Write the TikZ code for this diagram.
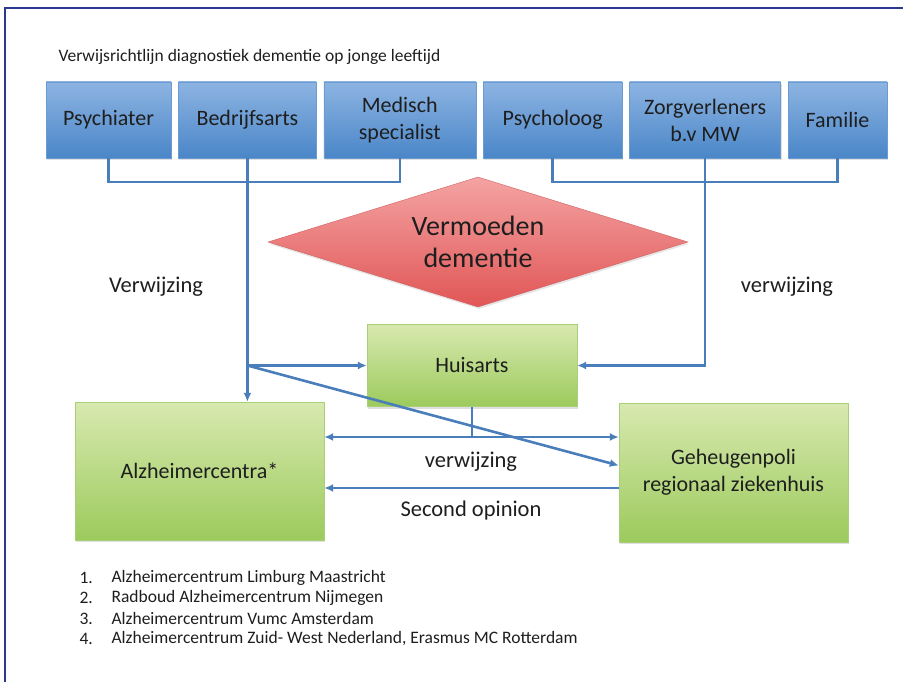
\documentclass[tikz,border=0pt]{standalone}
\usepackage{fontspec}
\setmainfont{Carlito}
\usetikzlibrary{positioning,shapes.geometric,arrows.meta,shadows}
\definecolor{linkblue}{HTML}{4A7EBB}
\definecolor{frameblue}{HTML}{2B3990}
\definecolor{bluetop}{HTML}{8DB4E2}
\definecolor{bluebot}{HTML}{4A86C8}
\definecolor{blueedge}{HTML}{6A9BD1}
\definecolor{greentop}{HTML}{D8E9B0}
\definecolor{greenbot}{HTML}{9CCA5C}
\definecolor{greenedge}{HTML}{A9D076}
\definecolor{redtop}{HTML}{F4A3A3}
\definecolor{redbot}{HTML}{E15656}
\definecolor{rededge}{HTML}{D06060}
\definecolor{inktext}{HTML}{1E1E1E}
\begin{document}
\begin{tikzpicture}[x=1pt, y=-1pt,
    node distance=7pt,
    topbox/.style={rectangle, draw=blueedge, top color=bluetop, bottom color=bluebot, minimum height=76pt, align=center, inner sep=2pt, text=inktext, font=\fontsize{22}{27}\selectfont, drop shadow={shadow xshift=1pt, shadow yshift=-2pt, opacity=0.25}},
    greenbox/.style={rectangle, draw=greenedge, top color=greentop, bottom color=greenbot, align=center, inner sep=2pt, text=inktext, font=\fontsize{22}{27}\selectfont, drop shadow={shadow xshift=1pt, shadow yshift=-2pt, opacity=0.25}},
    label/.style={text=inktext, font=\fontsize{22.5}{25}\selectfont},
    link/.style={draw=linkblue, line width=2.6pt},
    arrow/.style={link, -{Latex[length=9pt, width=8pt]}},
    twoway/.style={link, {Latex[length=9pt, width=8pt]}-{Latex[length=9pt, width=8pt]}}
]
    \useasboundingbox (0,0) rectangle (903,682);
    \draw[frameblue, line width=1.5pt] (5,690) -- (5,8) -- (910,8);

    \node[anchor=west, text=inktext, font=\fontsize{17.5}{19}\selectfont] (title) at (55,57) {Verwijsrichtlijn diagnostiek dementie op jonge leeftijd};

    \node[topbox, minimum width=125pt] (psy) at (108.5,120) {Psychiater};
    \node[topbox, minimum width=138pt, right=of psy] (bed) {Bedrijfsarts};
    \node[topbox, minimum width=152pt, right=of bed] (med) {Medisch\\specialist};
    \node[topbox, minimum width=139pt, right=of med] (psyo) {Psycholoog};
    \node[topbox, minimum width=151pt, right=of psyo] (zorg) {Zorgverleners\\b.v MW};
    \node[topbox, minimum width=99pt, right=of zorg] (fam) {Familie};

    \node[diamond, aspect=3.2, minimum width=420pt, minimum height=130pt, inner sep=0pt, draw=rededge, top color=redtop, bottom color=redbot, align=center, text=inktext, font=\fontsize{28}{32}\selectfont, drop shadow={shadow xshift=1pt, shadow yshift=-2pt, opacity=0.2}] (vermoeden) at (478,242) {Vermoeden\\dementie};

    \node[label] (verwL) at (156,287) {Verwijzing};
    \node[label] (verwR) at (787,287) {verwijzing};

    \node[greenbox, minimum width=210pt, minimum height=82pt] (hui) at (472,365.5) {Huisarts};
    \node[greenbox, minimum width=249pt, minimum height=138pt] (alz) at (199.5,471) {Alzheimercentra*};
    \node[greenbox, minimum width=229pt, minimum height=139pt] (geh) at (733.5,472.5) {Geheugenpoli\\regionaal ziekenhuis};

    \node[label] (verwM) at (471,462) {verwijzing};
    \node[label] (second) at (471,510) {Second opinion};

    \foreach \i/\centrum in {1/Alzheimercentrum Limburg Maastricht, 2/Radboud Alzheimercentrum Nijmegen, 3/Alzheimercentrum Vumc  Amsterdam, 4/{Alzheimercentrum Zuid- West Nederland, Erasmus MC Rotterdam}} {
        \node[anchor=west, text=inktext, font=\fontsize{17.5}{19}\selectfont] (nr\i) at (76,557+20.5*\i) {\i.};
        \node[anchor=west, text=inktext, font=\fontsize{17.5}{19}\selectfont] (centrum\i) at (108,557+20.5*\i) {\centrum};
    }

    \draw[link] (psy.south) -- ++(0,24) -| (med.south);
    \draw[link] (psyo.south) -- ++(0,24) -| (fam.south);
    \draw[arrow] (bed.south) -- (bed.south |- alz.north);
    \coordinate (split) at (bed.south |- hui.west);
    \coordinate (gehin) at ([yshift=7pt]geh.west);
    \draw[arrow] (split) -- (hui.west);
    \draw[arrow] (split) -- (gehin);
    \draw[arrow] (zorg.south) |- (hui.east);
    \coordinate (verwijsL) at ([yshift=34pt]alz.east);
    \coordinate (opinionL) at ([yshift=-17pt]alz.east);
    \draw[link] (hui.south) -- (hui.south |- verwijsL);
    \draw[twoway] (verwijsL) -- (verwijsL -| geh.west);
    \draw[arrow] (opinionL -| geh.west) -- (opinionL);
\end{tikzpicture}
\end{document}
